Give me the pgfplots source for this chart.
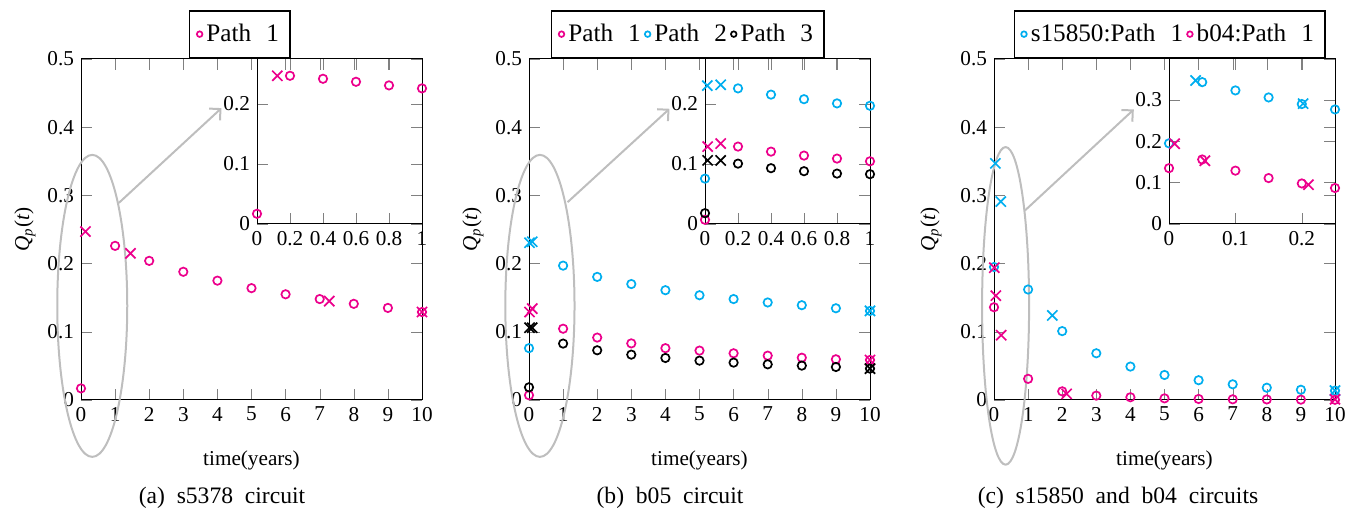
\documentclass[border=0pt]{standalone}
\usepackage{fontspec}
\setmainfont{Liberation Serif}
\usepackage{pgfplots}
\pgfplotsset{compat=1.18}
\usetikzlibrary{arrows.meta}
\definecolor{mag}{RGB}{236,0,140}
\definecolor{cya}{RGB}{0,174,239}
\definecolor{lgray}{RGB}{190,190,190}
\pgfplotsset{
  common/.style={
    scale only axis, anchor=south west, clip=false,
    /pgf/number format/assume math mode=true,
    tick label style={font=\fontsize{10.6}{12}\selectfont},
    label style={font=\fontsize{10.6}{12}\selectfont},
    major tick length=5.5pt,
    axis line style={line width=0.5pt},
  },
  mainax/.style={common,
    width=170.5pt, height=170.5pt,
    xmin=0, xmax=10, ymin=0, ymax=0.5,
    xtick={0,1,2,3,4,5,6,7,8,9,10},
    ytick={0,0.1,0.2,0.3,0.4,0.5},
    xlabel={time(years)},
    ylabel={\textit{Q}\textsubscript{\textit{p}}(\textit{t})},
    xlabel style={at={(axis description cs:0.5,-0.176)},anchor=center},
    ylabel style={at={(axis description cs:-0.164,0.5)},anchor=center},
    legend columns=-1,
    legend image code/.code={\draw[##1,mark size=1.4pt] plot coordinates {(0pt,0pt)};},
    legend style={font=\fontsize{12.6}{14}\selectfont, draw=black, anchor=south,
      inner xsep=3.5pt, inner ysep=4.5pt, line width=0.6pt},
  },
  inset/.style={common,
    width=82.5pt, height=82.5pt,
    xmin=0, xmax=1, ymin=0, ymax=0.275,
    xtick={0,0.2,0.4,0.6,0.8,1},
    ytick={0,0.1,0.2},
  },
  circ/.style={only marks, mark=o, mark size=2.1pt, line width=0.85pt},
  crs/.style={only marks, mark=x, mark size=3.6pt, line width=0.85pt, forget plot},
}
\begin{document}
\begin{tikzpicture}
\useasboundingbox (0,0) rectangle (678pt,258.5pt);
% ---------------- (a) ----------------
\begin{axis}[mainax, at={(40.5pt,58.5pt)},
  legend style={at={(0.466,1)}, yshift=0.5pt}]
\addplot[circ, mag] coordinates {(0,0.017)(1,0.226)(2,0.204)(3,0.188)(4,0.175)(5,0.164)(6,0.155)(7,0.148)(8,0.141)(9,0.135)(10,0.129)};
\addlegendentry{Path\hspace{0.6em}1}
\addplot[crs, mag] coordinates {(0.13,0.247)(1.45,0.215)(7.28,0.145)(10,0.129)};
\draw[lgray, line width=1pt] (axis cs:0.33,0.138) ellipse [x radius=17.5pt, y radius=75.5pt];
\draw[lgray, line width=1pt, -{Straight Barb[length=4pt,width=8pt]}] (axis cs:1.11,0.289) -- (axis cs:4.12,0.428);
\end{axis}
\begin{axis}[inset, at={(128.5pt,146.5pt)}]
\addplot[circ, mag] coordinates {(0,0.017)(0.2,0.247)(0.4,0.242)(0.6,0.237)(0.8,0.231)(1,0.226)};
\addplot[crs, mag] coordinates {(0.123,0.247)};
\end{axis}
% ---------------- (b) ----------------
\begin{axis}[mainax, at={(264.5pt,58.5pt)},
  legend style={at={(0.466,1)}, yshift=0.5pt}]
\addplot[circ, mag] coordinates {(0,0.007)(1,0.1045)(2,0.0915)(3,0.083)(4,0.076)(5,0.0724)(6,0.0685)(7,0.065)(8,0.062)(9,0.0597)(10,0.0587)};
\addlegendentry{Path\hspace{0.6em}1}
\addplot[circ, cya] coordinates {(0,0.076)(1,0.197)(2,0.1805)(3,0.170)(4,0.161)(5,0.1536)(6,0.148)(7,0.143)(8,0.139)(9,0.1345)(10,0.1306)};
\addlegendentry{Path\hspace{0.6em}2}
\addplot[circ, black] coordinates {(0,0.0186)(1,0.0827)(2,0.0729)(3,0.0665)(4,0.0616)(5,0.0577)(6,0.0548)(7,0.0523)(8,0.0504)(9,0.0484)(10,0.046)};
\addlegendentry{Path\hspace{0.6em}3}
\addplot[crs, mag] coordinates {(0.016,0.129)(0.095,0.134)(10,0.0587)};
\addplot[crs, cya] coordinates {(0.014,0.2306)(0.095,0.232)(10,0.1306)};
\addplot[crs, black] coordinates {(0.016,0.106)(0.095,0.106)(10,0.046)};
\draw[lgray, line width=1pt] (axis cs:0.32,0.138) ellipse [x radius=17.3pt, y radius=75.5pt];
\draw[lgray, line width=1pt, -{Straight Barb[length=4pt,width=8pt]}] (axis cs:1.13,0.29) -- (axis cs:4.12,0.427);
\end{axis}
\begin{axis}[inset, at={(352.5pt,146.5pt)}]
\addplot[circ, mag] coordinates {(0,0.007)(0.2,0.129)(0.4,0.1206)(0.6,0.114)(0.8,0.109)(1,0.1045)};
\addplot[circ, cya] coordinates {(0,0.0756)(0.2,0.226)(0.4,0.2156)(0.6,0.208)(0.8,0.201)(1,0.197)};
\addplot[circ, black] coordinates {(0,0.018)(0.2,0.1006)(0.4,0.093)(0.6,0.088)(0.8,0.084)(1,0.083)};
\addplot[crs, mag] coordinates {(0.016,0.129)(0.095,0.134)};
\addplot[crs, cya] coordinates {(0.014,0.2306)(0.095,0.232)};
\addplot[crs, black] coordinates {(0.016,0.106)(0.095,0.106)};
\end{axis}
% ---------------- (c) ----------------
\begin{axis}[mainax, at={(497pt,58.5pt)},
  ylabel style={at={(axis description cs:-0.185,0.5)}},
  legend style={at={(0.515,1)}, yshift=0.5pt}]
\addplot[circ, cya] coordinates {(0,0.195)(1,0.162)(2,0.101)(3,0.0685)(4,0.049)(5,0.0367)(6,0.029)(7,0.023)(8,0.018)(9,0.015)(10,0.0137)};
\addlegendentry{s15850:Path\hspace{0.6em}1}
\addplot[circ, mag] coordinates {(0,0.136)(1,0.031)(2,0.0127)(3,0.0064)(4,0.004)(5,0.0024)(6,0.0015)(7,0.001)(8,0.0008)(9,0.0005)(10,0.0003)};
\addlegendentry{b04:Path\hspace{0.6em}1}
\addplot[crs, cya] coordinates {(0.04,0.347)(0.2,0.291)(1.71,0.124)(10,0.0137)};
\addplot[crs, mag] coordinates {(0.0085,0.194)(0.054,0.153)(0.21,0.095)(2.13,0.009)(10,0.001)};
\draw[lgray, line width=1pt] (axis cs:0.34,0.138) ellipse [x radius=11.75pt, y radius=79.4pt];
\draw[lgray, line width=1pt, -{Straight Barb[length=4pt,width=8pt]}] (axis cs:0.91,0.278) -- (axis cs:4.1,0.426);
\end{axis}
\begin{axis}[inset, at={(584.5pt,146.5pt)}, width=83pt,
  xmax=0.25, ymax=0.399, xtick={0,0.1,0.2}, ytick={0,0.1,0.2,0.3}]
\addplot[circ, cya] coordinates {(0,0.195)(0.05,0.343)(0.1,0.323)(0.15,0.306)(0.2,0.290)(0.25,0.277)};
\addplot[circ, mag] coordinates {(0,0.135)(0.05,0.156)(0.1,0.129)(0.15,0.111)(0.2,0.098)(0.25,0.087)};
\addplot[crs, cya] coordinates {(0.04,0.347)(0.202,0.291)};
\addplot[crs, mag] coordinates {(0.0085,0.194)(0.054,0.153)(0.21,0.095)};
\end{axis}
% captions
\node[font=\fontsize{11.8}{14}\selectfont] at (111pt,9.5pt) {(a)\hspace{0.5em}s5378\hspace{0.5em}circuit};
\node[font=\fontsize{11.8}{14}\selectfont] at (335pt,9.5pt) {(b)\hspace{0.5em}b05\hspace{0.5em}circuit};
\node[font=\fontsize{11.8}{14}\selectfont] at (559pt,9.5pt) {(c)\hspace{0.5em}s15850\hspace{0.5em}and\hspace{0.5em}b04\hspace{0.5em}circuits};
\end{tikzpicture}
\end{document}
